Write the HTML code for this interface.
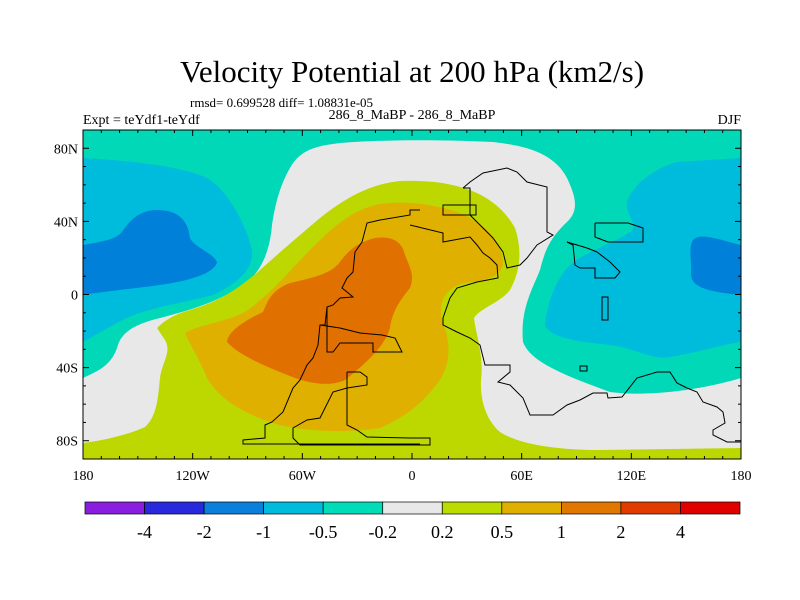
<!DOCTYPE html>
<html><head><meta charset="utf-8"><style>
body{margin:0;background:#fff;width:800px;height:600px;overflow:hidden}
svg{display:block}
text{font-family:"Liberation Serif",serif;fill:#000}
</style></head><body>
<svg id="chart" width="800" height="600">
<text x="412" y="82" font-size="31" text-anchor="middle">Velocity Potential at 200 hPa (km2/s)</text>
<text x="190" y="107" font-size="13">rmsd= 0.699528 diff= 1.08831e-05</text>
<text x="83" y="124" font-size="14">Expt = teYdf1-teYdf</text>
<text x="412" y="119" font-size="14" text-anchor="middle">286_8_MaBP - 286_8_MaBP</text>
<text x="741" y="124" font-size="14" text-anchor="end">DJF</text>
<defs><clipPath id="pc"><rect x="83" y="130" width="658" height="329"/></clipPath></defs>
<g clip-path="url(#pc)">
<rect x="83" y="130" width="658" height="329" fill="#00d8b8"/>
<path fill="#00bcdc" d="M83,158 C120,160 180,165 207,178 C225,188 245,220 252,250 C254,268 240,282 213,295 C185,303 140,308 113,325 L83,342Z"/>
<path fill="#0080d8" d="M83,245 C100,242 115,240 122,232 C130,220 140,210 157,210 C178,210 188,220 190,238 C195,248 212,252 217,262 C215,272 195,280 160,285 C130,289 100,292 83,295Z"/>
<path fill="#00bcdc" d="M741,158 L677,162 C655,168 632,185 627,202 C625,215 640,225 630,232 C610,245 585,252 570,265 C555,280 547,305 545,325 C550,338 580,342 610,345 C635,348 650,360 670,357 C700,352 720,345 741,342Z"/>
<path fill="#0080d8" d="M741,245 C720,240 700,232 693,240 C688,248 692,262 691,275 C692,288 710,292 741,295Z"/>
<path fill="#e8e8e8" d="M83,378 C100,370 112,365 118,345 C122,332 135,324 160,318 C190,310 220,302 247,282 C262,270 270,250 272,225 C275,205 280,185 290,168 C300,150 315,146 340,143 C380,140 430,139 493,142 C530,146 555,155 567,178 C575,195 580,210 567,222 C550,238 545,250 540,270 C532,290 520,310 523,342 C530,360 555,372 610,392 C640,396 690,393 741,378 L741,459 L83,459Z"/>
<path fill="#bcd800" d="M157,328 C165,320 175,314 190,310 C215,303 235,292 260,270 C280,252 300,235 320,218 C345,198 370,184 400,181 C430,180 450,183 470,190 C490,198 505,210 515,228 C522,250 521,270 510,290 C500,303 480,308 474,318 C476,335 484,355 481,380 C480,400 486,420 500,432 C520,445 560,450 600,450 L741,448 L741,459 L83,459 L83,443 C100,441 125,436 145,427 C158,415 158,395 160,378 C162,362 172,352 165,340Z"/>
<path fill="#e0b000" d="M185,333 C200,324 220,324 245,312 C270,295 290,270 310,250 C330,230 350,210 380,204 C410,200 440,205 465,215 C490,228 502,245 503,262 C502,276 490,280 465,283 C445,288 438,302 442,320 C450,340 452,360 440,380 C425,400 410,415 380,428 C350,433 310,432 280,425 C245,415 220,400 207,378 C200,360 190,345 185,333Z"/>
<path fill="#e07000" d="M227,342 C228,330 250,318 263,312 C268,300 272,290 290,283 C310,278 330,275 340,262 C350,248 360,242 375,238 C390,236 402,240 405,255 C410,268 415,275 410,288 C400,300 392,312 390,328 C385,345 370,360 345,380 C330,387 310,384 290,376 C265,366 240,356 227,342Z"/>
<g fill="none" stroke="#000" stroke-width="1">
<polyline points="420,210 410,210 410,215 380,220 367,223 362,242 355,252 353,272 347,278 342,288 347,292 353,297 340,298 333,305 327,307 325,325 320,325 318,345 313,358 307,365 300,380 293,388 283,412 272,422 265,425 265,438 243,440 243,444 420,444"/>
<polyline points="327,307 327,352 333,352 340,343 373,343 373,352 402,352 395,338 382,335 360,333 340,328 320,325"/>
<polyline points="347,372 360,372 367,377 367,385 347,388 333,392 320,418 307,420 293,428 293,438 300,445 430,445 430,438 408,438"/>
<polyline points="347,372 347,425 357,430 367,437 410,438"/>
<polyline points="410,225 443,233 443,242 470,237 477,245 483,253 490,258 497,265 498,278 477,282 457,288 450,298 443,318 443,325 457,332 470,338 480,345 485,365 510,365 510,372 498,382 510,385 523,398 530,415 553,415 567,405 580,400 593,393 607,393 608,398 622,397 637,378 657,372 670,372 677,383 687,388 697,392 703,402 717,407 723,412 725,423 713,430 713,435 727,442 741,442"/>
<polyline points="463,188 470,182 483,173 507,168 517,172 527,182 547,187 547,232 553,235 537,245 527,258 520,265 507,268 503,252 493,238 477,222 470,215 470,188 463,188"/>
<rect x="443" y="205" width="33" height="10"/>
<polyline points="567,242 573,245 575,265 580,268 595,268 595,278 615,278 620,272 610,262 597,252 587,248 567,242"/>
<polyline points="595,223 628,223 643,228 643,242 608,242 595,237 595,223"/>
<rect x="602" y="297" width="6" height="23"/>
<rect x="580" y="366" width="7" height="5"/>
</g>
</g>
<rect x="83" y="130" width="658" height="329" fill="none" stroke="#000" stroke-width="1"/>
<g id="ticks"></g>
<g id="cbar"></g>
</svg>
<script>
const lonTicks=[-180,-120,-60,0,60,120,180];
const lonLabels=["180","120W","60W","0","60E","120E","180"];
const latTicks=[80,40,0,-40,-80];
const latLabels=["80N","40N","0","40S","80S"];
const levels=["-4","-2","-1","-0.5","-0.2","0.2","0.5","1","2","4"];
const colors=["#8a1ee0","#2828dc","#0a80dc","#00bcdc","#00dcb8","#e8e8e8","#bcdc00","#e0b000","#e07800","#e03c00","#e00000"];
const ns="http://www.w3.org/2000/svg";
const X0=83,X1=741,Y0=130,Y1=459;
const xs=l=>X0+(l+180)/360*(X1-X0);
const ys=l=>Y0+(90-l)/180*(Y1-Y0);
const tg=document.getElementById('ticks');
function ln(g,x1,y1,x2,y2){const e=document.createElementNS(ns,'line');e.setAttribute('x1',x1);e.setAttribute('y1',y1);e.setAttribute('x2',x2);e.setAttribute('y2',y2);e.setAttribute('stroke','#000');


g.appendChild(e);}
function tx(g,x,y,s,anc,sz,name){const e=document.createElementNS(ns,'text');e.setAttribute('x',x);e.setAttribute('y',y);e.setAttribute('text-anchor',anc);e.setAttribute('font-size',sz);e.textContent=s;


g.appendChild(e);}
for(let l=-180;l<=180;l+=10){const x=xs(l);const m=l%60===0?6:3;ln(tg,x,Y1,x,Y1-m);ln(tg,x,Y0,x,Y0+m);}
for(let l=-90;l<=90;l+=10){const y=ys(l);const m=l%40===0?6:3;ln(tg,X0,y,X0+m,y);ln(tg,X1,y,X1-m,y);}
lonTicks.forEach((l,i)=>tx(tg,xs(l),480,lonLabels[i],'middle',14,'x-tick-label'));
latTicks.forEach((l,i)=>tx(tg,X0-5,ys(l)+5,latLabels[i],'end',14,'y-tick-label'));
const cb=document.getElementById('cbar');const cx0=85,cx1=740,cy=502,ch=12;const w=(cx1-cx0)/colors.length;
colors.forEach((c,i)=>{const r=document.createElementNS(ns,'rect');r.setAttribute('x',cx0+i*w);r.setAttribute('y',cy);r.setAttribute('width',w);r.setAttribute('height',ch);r.setAttribute('fill',c);r.setAttribute('stroke','#000');r.setAttribute('stroke-width','0.7');


cb.appendChild(r);});
levels.forEach((s,i)=>tx(cb,cx0+(i+1)*w,538,s,'middle',18,'colorbar-label'));
</script>
</body></html>
